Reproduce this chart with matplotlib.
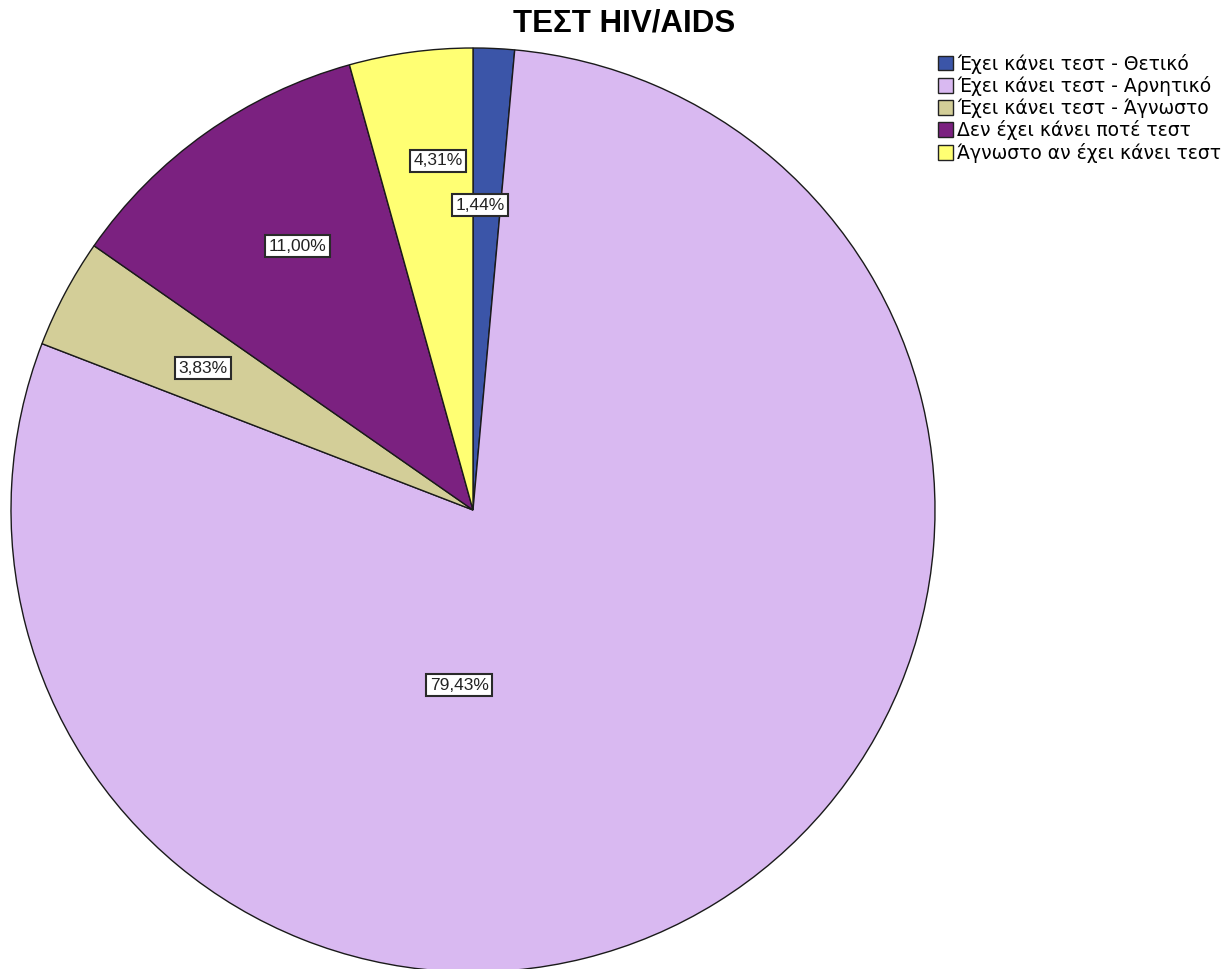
import matplotlib
matplotlib.use("Agg")
import matplotlib.pyplot as plt
from matplotlib.patches import Patch
import numpy as np

plt.rcParams['font.family'] = ['Liberation Sans', 'DejaVu Sans']

# data
labels = ['Έχει κάνει τεστ - Θετικό', 'Έχει κάνει τεστ - Αρνητικό',
          'Έχει κάνει τεστ - Άγνωστο', 'Δεν έχει κάνει ποτέ τεστ',
          'Άγνωστο αν έχει κάνει τεστ']
pcts = [1.44, 79.43, 3.83, 11.00, 4.31]
colors = ['#3B55A8', '#D9B9F1', '#D3CE98', '#7B2180', '#FFFF73']

# label placement (radius, angle shift in deg) per slice, as SPSS does it
lab_r = [0.66, 0.38, 0.66, 0.685, 0.76]
lab_shift = [1.3, -36.3, 0.3, -1.7, -2.0]

fig = plt.figure(figsize=(12.32, 9.69), dpi=100)
ax = fig.add_axes([11 / 1232, -3 / 969, 924 / 1232, 924 / 969])

wedges, _ = ax.pie(pcts, colors=colors, startangle=90, counterclock=False,
                   radius=1, wedgeprops=dict(edgecolor='#1a1a1a', linewidth=1.0))
for w in wedges:
    w.set_clip_on(False)

for i, w in enumerate(wedges):
    mid = np.deg2rad((w.theta1 + w.theta2) / 2 + lab_shift[i])
    x = lab_r[i] * np.cos(mid)
    y = lab_r[i] * np.sin(mid)
    ax.text(x, y, ('%.2f%%' % pcts[i]).replace('.', ','), ha='center', va='center',
            fontsize=12.5, color='#222222',
            bbox=dict(boxstyle='square,pad=0.2', fc='white', ec='#2a2a2a', lw=1.5))

ax.set_xlim(-1, 1)
ax.set_ylim(-1, 1)
ax.set_aspect('equal')
ax.axis('off')

fig.text(624 / 1232, 1 - 24 / 969, 'ΤΕΣΤ HIV/AIDS', ha='center', va='center',
         fontsize=22.5, fontweight='bold')

handles = [Patch(facecolor=c, edgecolor='#222222', linewidth=1.0) for c in colors]
fig.legend(handles, labels, loc='upper left', bbox_to_anchor=(930 / 1232, 1 - 46 / 969),
           frameon=False, prop={'family': 'DejaVu Sans', 'size': 13.5},
           handlelength=0.85, handleheight=0.85,
           handletextpad=0.2, labelspacing=0.13, borderaxespad=0)

fig.savefig('out.png', dpi=100)
